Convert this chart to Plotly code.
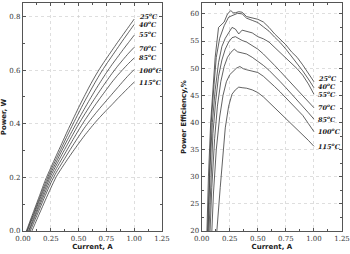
import plotly.graph_objects as go

temps = ["25", "40", "55", "70", "85", "100", "115"]

# ---- Left panel: Power vs Current ----
p_cur = {
    "25": [0.03, 0.05, 0.10, 0.15, 0.20, 0.25, 0.30, 0.35, 0.40, 0.45, 0.50, 0.55, 0.60, 0.65, 0.70, 0.75, 0.80, 0.85, 0.90, 0.95, 1.00],
    "40": [0.035, 0.05, 0.10, 0.15, 0.20, 0.25, 0.30, 0.35, 0.40, 0.45, 0.50, 0.55, 0.60, 0.65, 0.70, 0.75, 0.80, 0.85, 0.90, 0.95, 1.00],
    "55": [0.04, 0.05, 0.10, 0.15, 0.20, 0.25, 0.30, 0.35, 0.40, 0.45, 0.50, 0.55, 0.60, 0.65, 0.70, 0.75, 0.80, 0.85, 0.90, 0.95, 1.00],
    "70": [0.05, 0.10, 0.15, 0.20, 0.25, 0.30, 0.35, 0.40, 0.45, 0.50, 0.55, 0.60, 0.65, 0.70, 0.75, 0.80, 0.85, 0.90, 0.95, 1.00],
    "85": [0.055, 0.10, 0.15, 0.20, 0.25, 0.30, 0.35, 0.40, 0.45, 0.50, 0.55, 0.60, 0.65, 0.70, 0.75, 0.80, 0.85, 0.90, 0.95, 1.00],
    "100": [0.065, 0.10, 0.15, 0.20, 0.25, 0.30, 0.35, 0.40, 0.45, 0.50, 0.55, 0.60, 0.65, 0.70, 0.75, 0.80, 0.85, 0.90, 0.95, 1.00],
    "115": [0.08, 0.10, 0.15, 0.20, 0.25, 0.30, 0.35, 0.40, 0.45, 0.50, 0.55, 0.60, 0.65, 0.70, 0.75, 0.80, 0.85, 0.90, 0.95, 1.00],
}
p_pow = {
    "25": [0.0, 0.022, 0.078, 0.133, 0.189, 0.236, 0.282, 0.327, 0.373, 0.417, 0.460, 0.501, 0.541, 0.578, 0.612, 0.643, 0.673, 0.703, 0.732, 0.761, 0.790],
    "40": [0.0, 0.016, 0.070, 0.124, 0.178, 0.226, 0.270, 0.313, 0.357, 0.399, 0.440, 0.480, 0.518, 0.555, 0.590, 0.622, 0.652, 0.682, 0.712, 0.741, 0.770],
    "55": [0.0, 0.011, 0.063, 0.116, 0.168, 0.216, 0.258, 0.300, 0.340, 0.379, 0.417, 0.454, 0.490, 0.525, 0.558, 0.590, 0.620, 0.648, 0.676, 0.703, 0.730],
    "70": [0.0, 0.053, 0.105, 0.157, 0.206, 0.246, 0.285, 0.323, 0.361, 0.398, 0.432, 0.465, 0.497, 0.528, 0.558, 0.587, 0.614, 0.639, 0.663, 0.685],
    "85": [0.0, 0.045, 0.095, 0.145, 0.193, 0.233, 0.269, 0.305, 0.341, 0.376, 0.409, 0.440, 0.470, 0.499, 0.527, 0.555, 0.580, 0.603, 0.625, 0.645],
    "100": [0.0, 0.034, 0.083, 0.132, 0.179, 0.219, 0.253, 0.287, 0.320, 0.352, 0.383, 0.411, 0.437, 0.462, 0.486, 0.510, 0.534, 0.558, 0.581, 0.602],
    "115": [0.0, 0.019, 0.067, 0.114, 0.160, 0.203, 0.236, 0.267, 0.297, 0.326, 0.354, 0.380, 0.405, 0.428, 0.450, 0.471, 0.493, 0.514, 0.535, 0.555],
}
p_label_y = [0.800, 0.770, 0.732, 0.682, 0.648, 0.598, 0.553]

# ---- Right panel: Power efficiency vs Current ----
e_cur = {
    "25": [0.04, 0.06, 0.08, 0.10, 0.12, 0.15, 0.18, 0.20, 0.23, 0.26, 0.28, 0.30, 0.33, 0.36, 0.40, 0.45, 0.50, 0.55, 0.60, 0.65, 0.70, 0.75, 0.80, 0.85, 0.90, 0.95, 1.00],
    "40": [0.045, 0.065, 0.085, 0.11, 0.13, 0.16, 0.20, 0.24, 0.28, 0.32, 0.36, 0.40, 0.45, 0.50, 0.55, 0.60, 0.65, 0.70, 0.75, 0.80, 0.85, 0.90, 0.95, 1.00],
    "55": [0.05, 0.075, 0.095, 0.12, 0.15, 0.18, 0.21, 0.24, 0.27, 0.30, 0.33, 0.36, 0.40, 0.45, 0.50, 0.55, 0.60, 0.65, 0.70, 0.75, 0.80, 0.85, 0.90, 0.95, 1.00],
    "70": [0.055, 0.08, 0.10, 0.125, 0.15, 0.18, 0.21, 0.24, 0.27, 0.30, 0.33, 0.36, 0.40, 0.45, 0.50, 0.55, 0.60, 0.65, 0.70, 0.75, 0.80, 0.85, 0.90, 0.95, 1.00],
    "85": [0.065, 0.09, 0.115, 0.14, 0.17, 0.20, 0.23, 0.26, 0.29, 0.32, 0.36, 0.40, 0.45, 0.50, 0.55, 0.60, 0.65, 0.70, 0.75, 0.80, 0.85, 0.90, 0.95, 1.00],
    "100": [0.08, 0.105, 0.13, 0.16, 0.19, 0.22, 0.25, 0.28, 0.31, 0.34, 0.37, 0.40, 0.45, 0.50, 0.55, 0.60, 0.65, 0.70, 0.75, 0.80, 0.85, 0.90, 0.95, 1.00],
    "115": [0.11, 0.135, 0.165, 0.19, 0.21, 0.24, 0.27, 0.30, 0.33, 0.36, 0.40, 0.45, 0.50, 0.55, 0.60, 0.65, 0.70, 0.75, 0.80, 0.85, 0.90, 0.95, 1.00],
}
e_eff = {
    "25": [15, 30, 40, 46, 52, 57.5, 58.0, 58.5, 60.0, 60.6, 60.2, 60.2, 60.4, 60.3, 59.5, 59.3, 59.0, 58.5, 57.5, 56.3, 55.3, 54.3, 53.0, 52.0, 50.6, 49.1, 47.5],
    "40": [15, 30, 40, 47, 52, 55.5, 57.8, 59.4, 59.8, 60.1, 60.0, 59.2, 58.8, 58.4, 57.6, 56.8, 55.7, 54.7, 53.5, 52.2, 50.9, 49.5, 48.0, 46.4],
    "55": [15, 32, 40, 46, 51, 54, 55.5, 56.6, 57.5, 57.2, 56.3, 57.0, 56.8, 56.5, 55.8, 55.4, 54.8, 53.8, 52.9, 51.9, 50.9, 49.9, 48.7, 47.1, 45.2],
    "70": [15, 30, 38, 44, 48.5, 51.5, 53.5, 54.8, 55.6, 55.8, 55.4, 55.1, 54.8, 54.2, 53.5, 52.6, 51.6, 50.5, 49.4, 48.3, 47.2, 46.2, 45.0, 43.9, 42.7],
    "85": [15, 28, 37, 43, 47.5, 50.3, 52.0, 52.9, 53.5, 53.0, 52.8, 52.6, 52.0, 51.3, 50.5, 49.6, 48.6, 47.5, 46.4, 45.3, 44.1, 43.0, 41.8, 40.6],
    "100": [15, 27, 35, 41, 45, 47.5, 48.8, 49.5, 50.0, 50.3, 49.9, 49.7, 49.5, 49.2, 48.5, 47.6, 46.6, 45.6, 44.5, 43.5, 42.4, 41.3, 39.8, 38.3],
    "115": [10, 20, 28, 35, 39, 43, 45.2, 46.0, 46.5, 46.4, 46.3, 46.0, 45.5, 44.7, 43.7, 42.8, 41.7, 40.7, 39.8, 38.8, 37.7, 36.7, 35.6],
}
e_label_y = [48.1, 46.7, 45.2, 42.7, 40.6, 38.3, 35.5]
label_x = 1.03

LINE = "#3a3a3a"
AXC = "#555555"
TICKFONT = dict(family="DejaVu Serif", size=7, color="#333333")
TITLEFONT = dict(family="DejaVu Sans", size=7, color="#222222", weight="bold")
LABFONT = dict(family="DejaVu Serif", size=6.5, color="#222222", weight="bold", style="italic")

fig = go.Figure()
for t in temps:
    fig.add_trace(go.Scatter(x=p_cur[t], y=p_pow[t], mode="lines", line=dict(color=LINE, width=0.8, shape="spline", smoothing=0.6),
                             xaxis="x", yaxis="y", showlegend=False, hoverinfo="skip"))
    fig.add_trace(go.Scatter(x=e_cur[t], y=e_eff[t], mode="lines", line=dict(color=LINE, width=0.8),
                             xaxis="x2", yaxis="y2", showlegend=False, hoverinfo="skip"))

for t, py, ey in zip(temps, p_label_y, e_label_y):
    txt = f"{t}<sup>o</sup>C"
    fig.add_annotation(x=label_x, y=py, xref="x", yref="y", text=txt, showarrow=False,
                       xanchor="left", yanchor="middle", font=LABFONT, borderpad=0)
    fig.add_annotation(x=label_x, y=ey, xref="x2", yref="y2", text=txt, showarrow=False,
                       xanchor="left", yanchor="middle", font=LABFONT, borderpad=0)

common_axis = dict(showline=True, linecolor=AXC, linewidth=1.2, mirror="ticks",
                   ticks="inside", ticklen=3, tickcolor=AXC, tickwidth=1,
                   showgrid=True, gridcolor="#c8c8c8", griddash="dot", gridwidth=0.6,
                   zeroline=False, tickfont=TICKFONT, automargin=False)

xcommon = dict(common_axis, range=[0, 1.25], tickvals=[0, 0.25, 0.5, 0.75, 1.0, 1.25],
               ticktext=["0.00", "0.25", "0.50", "0.75", "1.00", "1.25"],
               minor=dict(tickvals=[0.125, 0.375, 0.625, 0.875, 1.125], ticks="inside", ticklen=2, tickcolor=AXC),
               title=dict(text="Current, A", font=TITLEFONT, standoff=2))

fig.update_layout(
    width=350, height=254,
    margin=dict(l=23, r=8, t=3, b=23),
    paper_bgcolor="white", plot_bgcolor="white",
    xaxis=dict(xcommon, domain=[0, 0.4357], anchor="y"),
    yaxis=dict(common_axis, range=[0, 0.85], tickvals=[0, 0.2, 0.4, 0.6, 0.8],
               ticktext=["0.0", "0.2", "0.4", "0.6", "0.8"],
               minor=dict(tickvals=[0.1, 0.3, 0.5, 0.7], ticks="inside", ticklen=2, tickcolor=AXC),
               title=dict(text="Power, W", font=TITLEFONT, standoff=2), anchor="x"),
    xaxis2=dict(xcommon, domain=[0.5602, 1.0], anchor="y2"),
    yaxis2=dict(common_axis, range=[20, 62], tickvals=[20, 25, 30, 35, 40, 45, 50, 55, 60],
                minor=dict(tickvals=[22.5, 27.5, 32.5, 37.5, 42.5, 47.5, 52.5, 57.5], ticks="inside", ticklen=2, tickcolor=AXC),
                title=dict(text="Power Efficiency,%", font=TITLEFONT, standoff=2), anchor="x2"),
)

fig.write_html("out.html", config={"displayModeBar": False, "staticPlot": True},
               post_script="document.body.style.margin='0';document.body.style.overflow='hidden';")
